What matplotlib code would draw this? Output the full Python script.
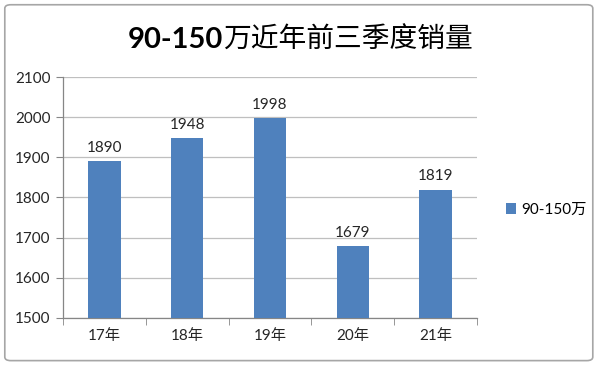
import matplotlib
matplotlib.use("Agg")
import matplotlib.pyplot as plt
from matplotlib.patches import FancyBboxPatch

plt.rcParams['font.family'] = ['Lato', 'Noto Sans CJK SC', 'DejaVu Sans']

# ------------------- DATA ------------------- #
categories = ["17年", "18年", "19年", "20年", "21年"]
sales = [1890, 1948, 1998, 1679, 1819]
series_name = "90-150万"
title_num = "90-150"
title_rest = "万近年前三季度销量"

bar_color = "#4F81BD"
grid_color = "#BFBFBF"
text_color = "#262626"

# ------------------- FIGURE ------------------- #
fig = plt.figure(figsize=(6, 3.65), dpi=100)
fig.patch.set_facecolor("white")

# outer chart border
border = FancyBboxPatch((0.008, 0.012), 0.98, 0.975, boxstyle="round,pad=0,rounding_size=0.01",
                        transform=fig.transFigure, fill=False, edgecolor="#A6A6A6", linewidth=1.2)
fig.patches.append(border)

ax = fig.add_axes([0.105, 0.129, 0.69, 0.66])

x = range(len(categories))
ax.bar(x, sales, width=0.39, color=bar_color, zorder=3, label=series_name)

for xi, v in zip(x, sales):
    ax.text(xi, v + 16, str(v), ha="center", va="bottom", fontsize=11, color=text_color)

ax.set_ylim(1500, 2100)
ax.set_yticks(range(1500, 2101, 100))
ax.set_xlim(-0.5, len(categories) - 0.5)
ax.set_xticks(list(x))
ax.set_xticklabels(categories, fontsize=11, color=text_color)
ax.tick_params(axis="x", length=0, pad=8)
ax.set_xticks([i - 0.5 for i in range(len(categories) + 1)], minor=True)
ax.tick_params(axis="x", which="minor", length=5, color="#868686", direction="out")
ax.tick_params(axis="y", labelsize=11, labelcolor=text_color, length=5, color="#868686", pad=4)

ax.yaxis.grid(True, color=grid_color, linewidth=0.9, zorder=0)
ax.set_axisbelow(True)
for side in ["top", "right"]:
    ax.spines[side].set_visible(False)
for side in ["left", "bottom"]:
    ax.spines[side].set_color("#868686")
    ax.spines[side].set_linewidth(0.9)

# title: bold numbers, regular Chinese, centred together
t1 = fig.text(0, 0.89, title_num, ha="left", va="center", fontsize=21, fontweight="bold", color="black")
t2 = fig.text(0, 0.89, title_rest, ha="left", va="center", fontsize=20, color="black",
              family=['Noto Sans CJK SC'])
renderer = fig.canvas.get_renderer()
w1 = t1.get_window_extent(renderer).width / fig.bbox.width
w2 = t2.get_window_extent(renderer).width / fig.bbox.width
start = 0.5 - (w1 + w2) / 2
t1.set_x(start)
t2.set_x(start + w1)

fig.legend(loc="center left", bbox_to_anchor=(0.82, 0.425), frameon=False, fontsize=11,
           handlelength=0.7, handleheight=0.7, handletextpad=0.3)

fig.savefig("out.png", dpi=100)
